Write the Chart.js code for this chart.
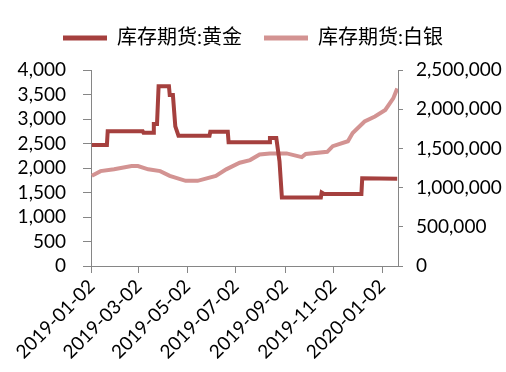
<!DOCTYPE html>
<html>
<head>
<meta charset="utf-8">
<script src="https://cdn.jsdelivr.net/npm/chart.js@4.4.1/dist/chart.umd.min.js"></script>
<style>
  html, body { margin: 0; padding: 0; background: #fff; }
  #wrap { width: 506px; height: 372px; }
</style>
</head>
<body>
<div id="wrap"><canvas id="chart"></canvas></div>
<script>
// series names
const seriesNames = ['库存期货:黄金', '库存期货:白银'];

// gold inventory (left axis)
const goldDates = [
  '2019-01-02', '2019-01-21', '2019-01-22', '2019-03-07', '2019-03-08', '2019-03-20',
  '2019-03-21', '2019-03-25', '2019-03-27', '2019-04-09', '2019-04-10', '2019-04-14',
  '2019-04-17', '2019-04-21', '2019-05-30', '2019-05-31', '2019-06-22', '2019-06-23',
  '2019-08-13', '2019-08-14', '2019-08-22', '2019-08-26', '2019-08-29', '2019-10-17',
  '2019-10-18', '2019-10-21', '2019-12-07', '2019-12-08', '2020-01-21'
];
const goldValues = [
  2470, 2470, 2750, 2750, 2720, 2720,
  2900, 2900, 3670, 3670, 3490, 3490,
  2850, 2660, 2660, 2740, 2740, 2525,
  2525, 2610, 2610, 2140, 1400, 1400,
  1500, 1470, 1470, 1790, 1780
];

// silver inventory (right axis)
const silverDates = [
  '2019-01-02', '2019-01-13', '2019-01-30', '2019-02-21', '2019-03-01', '2019-03-14',
  '2019-03-29', '2019-04-10', '2019-04-30', '2019-05-15', '2019-06-07', '2019-06-20',
  '2019-07-07', '2019-07-20', '2019-08-01', '2019-08-14', '2019-09-04', '2019-09-23',
  '2019-09-28', '2019-10-25', '2019-11-01', '2019-11-20', '2019-11-26', '2019-12-11',
  '2019-12-24', '2020-01-06', '2020-01-16', '2020-01-21'
];
const silverValues = [
  1150000, 1210000, 1233000, 1275000, 1275000, 1233000,
  1210000, 1150000, 1086000, 1086000, 1149000, 1233000,
  1317000, 1351000, 1423000, 1436000, 1436000, 1389000,
  1430000, 1456000, 1528000, 1591000, 1696000, 1843000,
  1907000, 1990000, 2138000, 2264000
];

// x axis tick labels
const xTickLabels = ['2019-01-02', '2019-03-02', '2019-05-02', '2019-07-02', '2019-09-02', '2019-11-02', '2020-01-02'];

const DAY = 86400000;
const origin = Date.UTC(2019, 0, 2);
function toDay(s) {
  const p = s.split('-');
  return Math.round((Date.UTC(+p[0], +p[1] - 1, +p[2]) - origin) / DAY);
}
function toLabel(d) {
  return new Date(origin + d * DAY).toISOString().slice(0, 10);
}

const gold = goldDates.map((d, i) => ({ x: toDay(d), y: goldValues[i] }));
const silver = silverDates.map((d, i) => ({ x: toDay(d), y: silverValues[i] }));
const tickDays = xTickLabels.map(toDay);

const FONT = "Lato, 'Noto Sans CJK SC', sans-serif";
const axisGray = '#868686';

// extra room under the legend
const legendGap = {
  id: 'legendGap',
  afterInit(chart) {
    const fit = chart.legend.fit;
    chart.legend.fit = function () {
      fit.call(this);
      this.height += 12;
    };
  }
};

const ctx = document.getElementById('chart').getContext('2d');
new Chart(ctx, {
  type: 'line',
  data: {
    datasets: [
      {
        label: seriesNames[0],
        data: gold,
        yAxisID: 'y',
        borderColor: '#A5403E',
        backgroundColor: '#A5403E',
        borderWidth: 4,
        pointRadius: 0,
        tension: 0
      },
      {
        label: seriesNames[1],
        data: silver,
        yAxisID: 'y1',
        borderColor: '#D39392',
        backgroundColor: '#D39392',
        borderWidth: 4,
        pointRadius: 0,
        tension: 0
      }
    ]
  },
  plugins: [legendGap],
  options: {
    responsive: true,
    maintainAspectRatio: false,
    animation: false,
    layout: { padding: { top: 6, left: 0, right: 0, bottom: 0 } },
    plugins: {
      legend: {
        position: 'top',
        labels: {
          font: { family: FONT, size: 20 },
          color: '#000',
          boxWidth: 44,
          boxHeight: 0,
          padding: 22,
          generateLabels: (chart) => chart.data.datasets.map((ds, i) => ({
            text: ds.label,
            strokeStyle: ds.borderColor,
            fillStyle: ds.borderColor,
            lineWidth: 5,
            lineCap: 'round',
            datasetIndex: i
          }))
        }
      },
      tooltip: { enabled: false }
    },
    scales: {
      x: {
        type: 'linear',
        min: -1,
        max: 385,
        afterBuildTicks: (axis) => { axis.ticks = tickDays.map(v => ({ value: v })); },
        afterFit: (axis) => { axis.height = 106; },
        ticks: {
          autoSkip: false,
          minRotation: 45,
          maxRotation: 45,
          color: '#000',
          font: { family: FONT, size: 19 },
          padding: 2,
          callback: (v) => toLabel(v)
        },
        grid: { drawOnChartArea: false, tickLength: 7, color: axisGray },
        border: { color: axisGray }
      },
      y: {
        position: 'left',
        min: 0,
        max: 4000,
        afterFit: (axis) => { axis.width = 91; },
        ticks: {
          autoSkip: false,
          stepSize: 500,
          color: '#000',
          font: { family: FONT, size: 19 },
          padding: 17,
          callback: (v) => v.toLocaleString('en-US')
        },
        grid: { drawOnChartArea: false, tickLength: 8, color: axisGray },
        border: { color: axisGray }
      },
      y1: {
        position: 'right',
        min: 0,
        max: 2500000,
        afterFit: (axis) => { axis.width = 108; },
        ticks: {
          autoSkip: false,
          stepSize: 500000,
          color: '#000',
          font: { family: FONT, size: 19 },
          padding: 13,
          callback: (v) => v.toLocaleString('en-US')
        },
        grid: { drawOnChartArea: false, tickLength: 5, color: axisGray },
        border: { color: axisGray }
      }
    }
  }
});
</script>
</body>
</html>
